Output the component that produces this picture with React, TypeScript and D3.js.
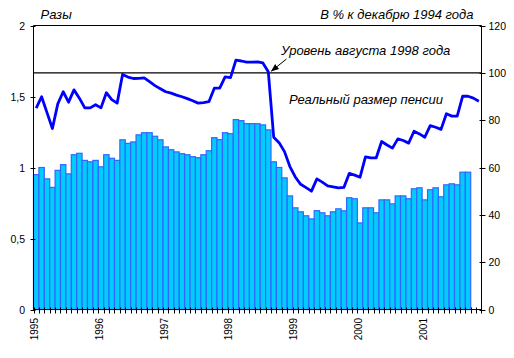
import React from "react";
import * as d3 from "d3";

const years = [1995, 1996, 1997, 1998, 1999, 2000, 2001];
const monthNames = ["01", "02", "03", "04", "05", "06", "07", "08", "09", "10", "11", "12"];
// Jan 1995 .. Nov 2001 (83 months)
const categories: string[] = years
  .flatMap((y) => monthNames.map((m) => `${y}-${m}`))
  .slice(0, 83);

// Ratio (left axis, "Разы") – bars, Jan 1995 .. Sep 2001
const ratioValues = [
  0.95, 1.0, 0.92, 0.86, 0.98, 1.02, 0.955, 1.09, 1.1, 1.05, 1.04, 1.05,
  1.005, 1.09, 1.065, 1.05, 1.195, 1.17, 1.18, 1.23, 1.245, 1.245, 1.22, 1.195,
  1.145, 1.125, 1.11, 1.097, 1.09, 1.076, 1.069, 1.09, 1.118, 1.21, 1.196, 1.245,
  1.238, 1.337, 1.33, 1.309, 1.309, 1.308, 1.3, 1.265, 1.04, 1.0, 0.927, 0.8,
  0.716, 0.688, 0.66, 0.638, 0.696, 0.681, 0.66, 0.688, 0.709, 0.695, 0.787, 0.78,
  0.61, 0.716, 0.716, 0.681, 0.772, 0.772, 0.744, 0.8, 0.8, 0.78, 0.85, 0.857,
  0.772, 0.843, 0.857, 0.794, 0.878, 0.885, 0.878, 0.967, 0.967,
];

// Real pension (right axis, % of December 1994) – line, Jan 1995 .. Nov 2001
const pensionValues = [
  85.1, 89.9, 83.2, 76.5, 86.9, 92.0, 87.6, 92.8, 89.3, 85.2, 85.2, 86.5,
  85.2, 91.6, 88.7, 87.2, 99.3, 98.2, 97.6, 97.7, 97.9, 96.3, 94.6, 93.3,
  92.0, 91.4, 90.6, 89.9, 89.1, 88.2, 87.2, 87.4, 87.8, 93.5, 93.5, 98.3,
  98.0, 105.4, 105.0, 104.5, 104.5, 104.6, 104.2, 100.5, 72.8, 70.5, 66.7, 60.4,
  56.0, 52.9, 51.5, 50.0, 55.2, 53.8, 52.2, 51.8, 51.4, 51.6, 57.5, 56.8,
  55.9, 64.5, 64.1, 64.1, 71.0, 69.5, 68.2, 72.1, 71.4, 70.3, 75.3, 74.2,
  72.8, 77.7, 77.0, 76.1, 82.7, 81.7, 81.7, 90.1, 90.1, 89.3, 88.0,
];

const augustLevel = 100;

const leftTicks = [0, 0.5, 1, 1.5, 2];
const leftTickLabels = ["0", "0,5", "1", "1,5", "2"];
const rightTicks = [0, 20, 40, 60, 80, 100, 120];

const leftTitle = "Разы";
const rightTitle = "В % к декабрю 1994 года";
const levelLabel = "Уровень августа 1998 года";
const lineLabel = "Реальный размер пенсии";

const W = 514;
const H = 358;
const L = 33.5;
const R = 481.5;
const T = 25.5;
const B = 309.5;
const FONT = "'Liberation Sans', Arial, sans-serif";

export default function App() {
  const x = d3.scaleBand<string>().domain(categories).range([L, R]).padding(0);
  const yL = d3.scaleLinear().domain([0, 2]).range([B, T]);
  const yR = d3.scaleLinear().domain([0, 120]).range([B, T]);
  const bw = x.bandwidth();

  const line = d3
    .line<number>()
    .x((_, i) => (x(categories[i]) as number) + bw / 2)
    .y((d) => yR(d));

  const boundaries = d3.range(categories.length + 1).map((i) => L + i * bw);
  const yLevel = yR(augustLevel);

  return (
    <svg
      width={W}
      height={H}
      style={{ position: "absolute", left: 0, top: 0, background: "#fff" }}
      fontFamily={FONT}
    >
      <rect x={0} y={0} width={W} height={H} fill="#fff" />
      {/* bars */}
      <g>
        {ratioValues.map((v, i) => {
          const x0 = x(categories[i]) as number;
          return (
            <rect
              key={i}
              x={x0}
              y={yL(v)}
              width={bw}
              height={yL(0) - yL(v)}
              fill="#00CCFF"
              stroke="#3366FF"
              strokeWidth={1.2}
            />
          );
        })}
      </g>
      {/* August 1998 level */}
      <line x1={L} x2={R} y1={yLevel} y2={yLevel} stroke="#000" strokeWidth={1.3} />
      {/* pension line */}
      <path d={line(pensionValues) || ""} fill="none" stroke="#0000FF" strokeWidth={2.8} strokeLinejoin="round" />
      {/* frame */}
      <line x1={L} x2={R} y1={T} y2={T} stroke="#000" strokeWidth={1} />
      <line x1={L} x2={L} y1={T} y2={B} stroke="#000" strokeWidth={1} />
      <line x1={R} x2={R} y1={T} y2={B} stroke="#000" strokeWidth={1} />
      <line x1={L} x2={R} y1={B} y2={B} stroke="#000" strokeWidth={1} />
      {/* left axis */}
      {leftTicks.map((t, i) => (
        <g key={"l" + t}>
          <line x1={L - 3} x2={L + 2} y1={Math.round(yL(t)) + 0.5} y2={Math.round(yL(t)) + 0.5} stroke="#000" />
          <text x={25} y={yL(t)} textAnchor="end" dominantBaseline="central" fontSize={10.5} fill="#000">
            {leftTickLabels[i]}
          </text>
        </g>
      ))}
      {/* right axis */}
      {rightTicks.map((t) => (
        <g key={"r" + t}>
          <line x1={R - 2} x2={R + 4} y1={Math.round(yR(t)) + 0.5} y2={Math.round(yR(t)) + 0.5} stroke="#000" />
          <text x={488.5} y={yR(t)} textAnchor="start" dominantBaseline="central" fontSize={10.5} fill="#000">
            {t}
          </text>
        </g>
      ))}
      {/* bottom ticks */}
      {boundaries.map((bx, i) => (
        <line key={"b" + i} x1={Math.round(bx) + 0.5} x2={Math.round(bx) + 0.5} y1={B - 2} y2={B + 4} stroke="#000" />
      ))}
      {/* year labels */}
      {years.map((y) => {
        const cx = (x(`${y}-01`) as number) + 1;
        return (
          <text
            key={y}
            transform={`translate(${cx},318) rotate(-90)`}
            textAnchor="end"
            dominantBaseline="central"
            fontSize={10}
            fill="#000"
          >
            {y}
          </text>
        );
      })}
      {/* titles */}
      <text x={40.5} y={19} fontSize={13} fontStyle="italic" fill="#000">
        {leftTitle}
      </text>
      <text x={473.5} y={19} fontSize={13} fontStyle="italic" textAnchor="end" fill="#000">
        {rightTitle}
      </text>
      <text x={281} y={55} fontSize={13} fontStyle="italic" fill="#000">
        {levelLabel}
      </text>
      <text x={289} y={104} fontSize={13} fontStyle="italic" fill="#000">
        {lineLabel}
      </text>
      {/* arrow */}
      <defs>
        <marker id="arr" viewBox="0 0 10 10" refX="9" refY="5" markerWidth="8" markerHeight="8" orient="auto" markerUnits="userSpaceOnUse">
          <path d="M0,1 L10,5 L0,9 z" fill="#000" />
        </marker>
      </defs>
      <line x1={286.5} y1={59} x2={271.5} y2={71} stroke="#000" strokeWidth={1} markerEnd="url(#arr)" />
    </svg>
  );
}
